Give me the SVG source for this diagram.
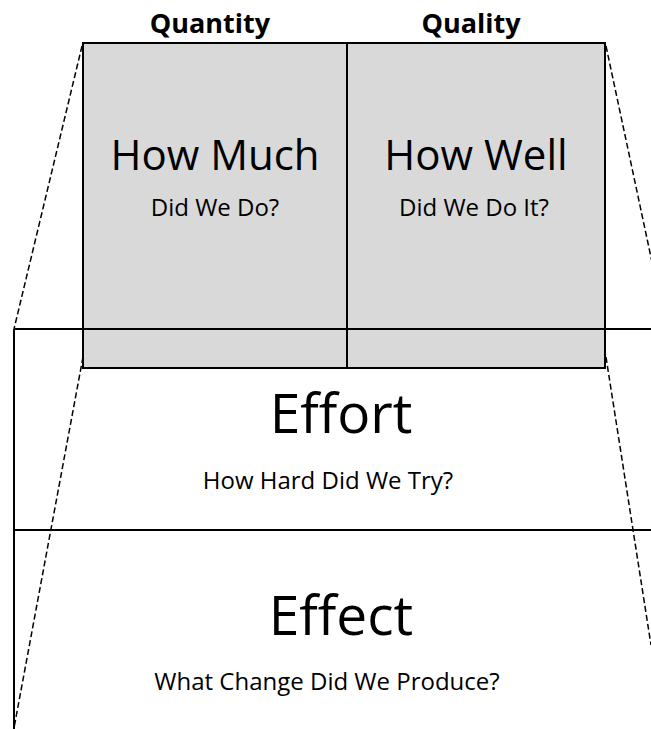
<svg xmlns="http://www.w3.org/2000/svg" width="651" height="729" viewBox="0 0 651 729">
<style>
.ln{stroke:#000;stroke-width:2;fill:none}
.ds{stroke:#000;stroke-width:1.5;fill:none;stroke-dasharray:6 3}
.box{fill:#d9d9d9;stroke:#000;stroke-width:2}
text{font-family:"Open Sans","Liberation Sans",sans-serif;fill:#000;text-anchor:middle}
.hd{font-weight:bold;font-size:27px}
.big{font-size:42px}
.sub{font-size:24px}
.huge{font-size:55px}
</style>
<rect width="651" height="729" fill="#fff"/>
<g id="quantity-cell">
<rect class="box" x="83" y="43" width="264" height="325"/>
<text class="big" x="215" y="170">How Much</text>
<text class="sub" x="215" y="216">Did We Do?</text>
</g>
<g id="quality-cell">
<rect class="box" x="347" y="43" width="258" height="325"/>
<text class="big" x="476" y="170">How Well</text>
<text class="sub" x="474" y="216">Did We Do It?</text>
</g>
<g id="headers">
<text class="hd" x="210" y="33">Quantity</text>
<text class="hd" x="471" y="33">Quality</text>
</g>
<g id="effort">
<text class="huge" x="341" y="433">Effort</text>
<text class="sub" x="328" y="489">How Hard Did We Try?</text>
</g>
<g id="effect">
<text class="huge" x="341" y="635">Effect</text>
<text class="sub" x="327" y="690">What Change Did We Produce?</text>
</g>
<g id="connectors">
<line class="ln" x1="14" y1="329" x2="651" y2="329"/>
<line class="ln" x1="14" y1="530" x2="651" y2="530"/>
<line class="ln" x1="14" y1="329" x2="14" y2="729"/>
<line class="ds" x1="82" y1="46" x2="14" y2="329"/>
<line class="ds" x1="83" y1="357" x2="14" y2="728"/>
<line class="ds" x1="606" y1="46" x2="652" y2="262"/>
<line class="ds" x1="606" y1="357" x2="651" y2="645"/>
</g>
</svg>
